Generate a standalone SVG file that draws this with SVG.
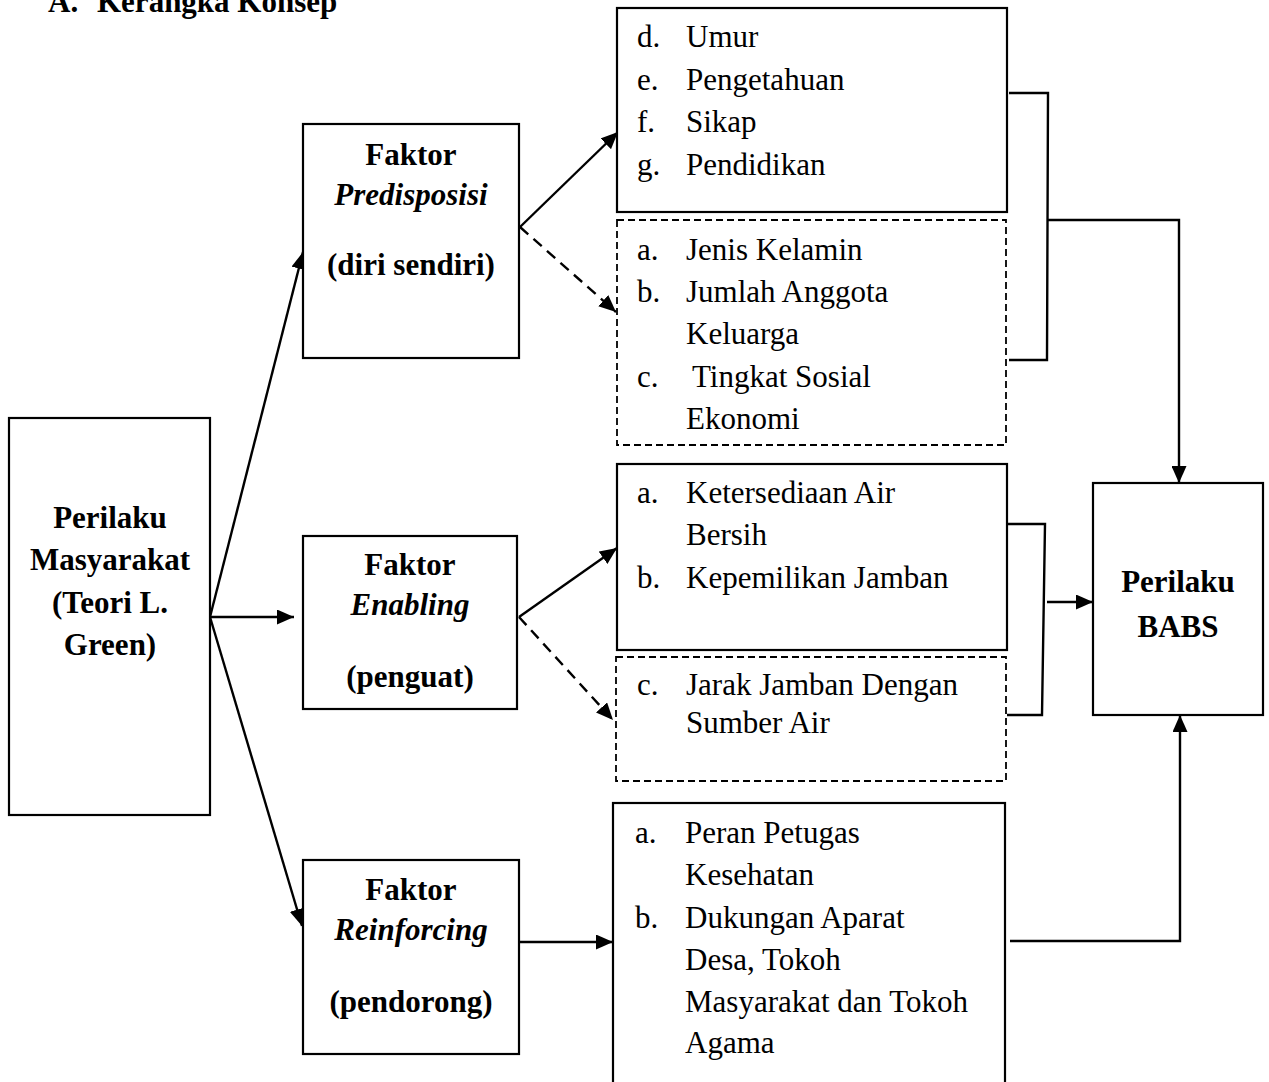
<svg xmlns="http://www.w3.org/2000/svg" width="1269" height="1082" viewBox="0 0 1269 1082">
  <style>
    text { font-family: "Liberation Serif", "Times New Roman", serif; font-size: 31px; fill: #000; }
    .b { font-weight: bold; }
    .bi { font-weight: bold; font-style: italic; }
    .c { text-anchor: middle; }
    .box { fill: #fff; stroke: #000; stroke-width: 2.2; }
    .dbox { fill: #fff; stroke: #000; stroke-width: 1.8; stroke-dasharray: 7 4; }
    .ln { fill: none; stroke: #000; stroke-width: 2.4; }
    .dl { fill: none; stroke: #000; stroke-width: 2.4; stroke-dasharray: 11 7; }
  </style>
  <defs>
    <marker id="ah" markerUnits="userSpaceOnUse" markerWidth="17" markerHeight="15" refX="17" refY="7.5" orient="auto">
      <path d="M0,0 L17,7.5 L0,15 z" fill="#000" stroke="none"/>
    </marker>
  </defs>
  <rect width="1269" height="1082" fill="#fff"/>

  <text class="b" x="48" y="12">A.</text>
  <text class="b" x="97" y="12">Kerangka Konsep</text>

  <g id="connectors">
    <line class="ln" x1="210" y1="617" x2="303" y2="252" marker-end="url(#ah)"/>
    <line class="ln" x1="210" y1="617" x2="294" y2="617" marker-end="url(#ah)"/>
    <line class="ln" x1="210" y1="617" x2="302" y2="926" marker-end="url(#ah)"/>

    <line class="ln" x1="520" y1="227" x2="618" y2="132" marker-end="url(#ah)"/>
    <line class="dl" x1="520" y1="227" x2="616" y2="312" marker-end="url(#ah)"/>

    <line class="ln" x1="519" y1="617" x2="617" y2="548" marker-end="url(#ah)"/>
    <line class="dl" x1="519" y1="617" x2="613" y2="720" marker-end="url(#ah)"/>

    <line class="ln" x1="519" y1="942" x2="613" y2="942" marker-end="url(#ah)"/>

    <polyline class="ln" points="1009,93 1048,93 1047,360 1009,360"/>
    <polyline class="ln" points="1048,220 1179,220 1179,483" marker-end="url(#ah)"/>

    <polyline class="ln" points="1007,524 1045,524 1042,715 1007,715"/>
    <line class="ln" x1="1047" y1="602" x2="1093" y2="602" marker-end="url(#ah)"/>

    <polyline class="ln" points="1010,941 1180,941 1180,715" marker-end="url(#ah)"/>
  </g>

  <g id="node-perilaku-masyarakat">
    <rect class="box" x="9" y="418" width="201" height="397"/>
    <text class="b c" x="110" y="528">Perilaku</text>
    <text class="b c" x="110" y="570">Masyarakat</text>
    <text class="b c" x="110" y="613">(Teori L.</text>
    <text class="b c" x="110" y="655">Green)</text>
  </g>

  <g id="node-predisposisi">
    <rect class="box" x="303" y="124" width="216" height="234"/>
    <text class="b c" x="411" y="165">Faktor</text>
    <text class="bi c" x="411" y="205">Predisposisi</text>
    <text class="b c" x="411" y="275">(diri sendiri)</text>
  </g>

  <g id="node-enabling">
    <rect class="box" x="303" y="536" width="214" height="173"/>
    <text class="b c" x="410" y="575">Faktor</text>
    <text class="bi c" x="410" y="615">Enabling</text>
    <text class="b c" x="410" y="687">(penguat)</text>
  </g>

  <g id="node-reinforcing">
    <rect class="box" x="303" y="860" width="216" height="194"/>
    <text class="b c" x="411" y="900">Faktor</text>
    <text class="bi c" x="411" y="940">Reinforcing</text>
    <text class="b c" x="411" y="1012">(pendorong)</text>
  </g>

  <g id="node-predisposisi-diteliti">
    <rect class="box" x="617" y="8" width="390" height="204"/>
    <text x="637" y="47">d.</text><text x="686" y="47">Umur</text>
    <text x="637" y="90">e.</text><text x="686" y="90">Pengetahuan</text>
    <text x="637" y="132">f.</text><text x="686" y="132">Sikap</text>
    <text x="637" y="175">g.</text><text x="686" y="175">Pendidikan</text>
  </g>

  <g id="node-predisposisi-tidak-diteliti">
    <rect class="dbox" x="617" y="220" width="389" height="225"/>
    <text x="637" y="260">a.</text><text x="686" y="260">Jenis Kelamin</text>
    <text x="637" y="302">b.</text><text x="686" y="302">Jumlah Anggota</text>
    <text x="686" y="344">Keluarga</text>
    <text x="637" y="387">c.</text><text x="692" y="387">Tingkat Sosial</text>
    <text x="686" y="429">Ekonomi</text>
  </g>

  <g id="node-enabling-diteliti">
    <rect class="box" x="617" y="464" width="390" height="186"/>
    <text x="637" y="503">a.</text><text x="686" y="503">Ketersediaan Air</text>
    <text x="686" y="545">Bersih</text>
    <text x="637" y="588">b.</text><text x="686" y="588">Kepemilikan Jamban</text>
  </g>

  <g id="node-enabling-tidak-diteliti">
    <rect class="dbox" x="616" y="657" width="390" height="124"/>
    <text x="637" y="695">c.</text><text x="686" y="695">Jarak Jamban Dengan</text>
    <text x="686" y="733">Sumber Air</text>
  </g>

  <g id="node-reinforcing-list">
    <rect class="box" x="613" y="803" width="392" height="290"/>
    <text x="635" y="843">a.</text><text x="685" y="843">Peran Petugas</text>
    <text x="685" y="885">Kesehatan</text>
    <text x="635" y="928">b.</text><text x="685" y="928">Dukungan Aparat</text>
    <text x="685" y="970">Desa, Tokoh</text>
    <text x="685" y="1012">Masyarakat dan Tokoh</text>
    <text x="685" y="1053">Agama</text>
  </g>

  <g id="node-perilaku-babs">
    <rect class="box" x="1093" y="483" width="170" height="232"/>
    <text class="b c" x="1178" y="592">Perilaku</text>
    <text class="b c" x="1178" y="637">BABS</text>
  </g>
</svg>
